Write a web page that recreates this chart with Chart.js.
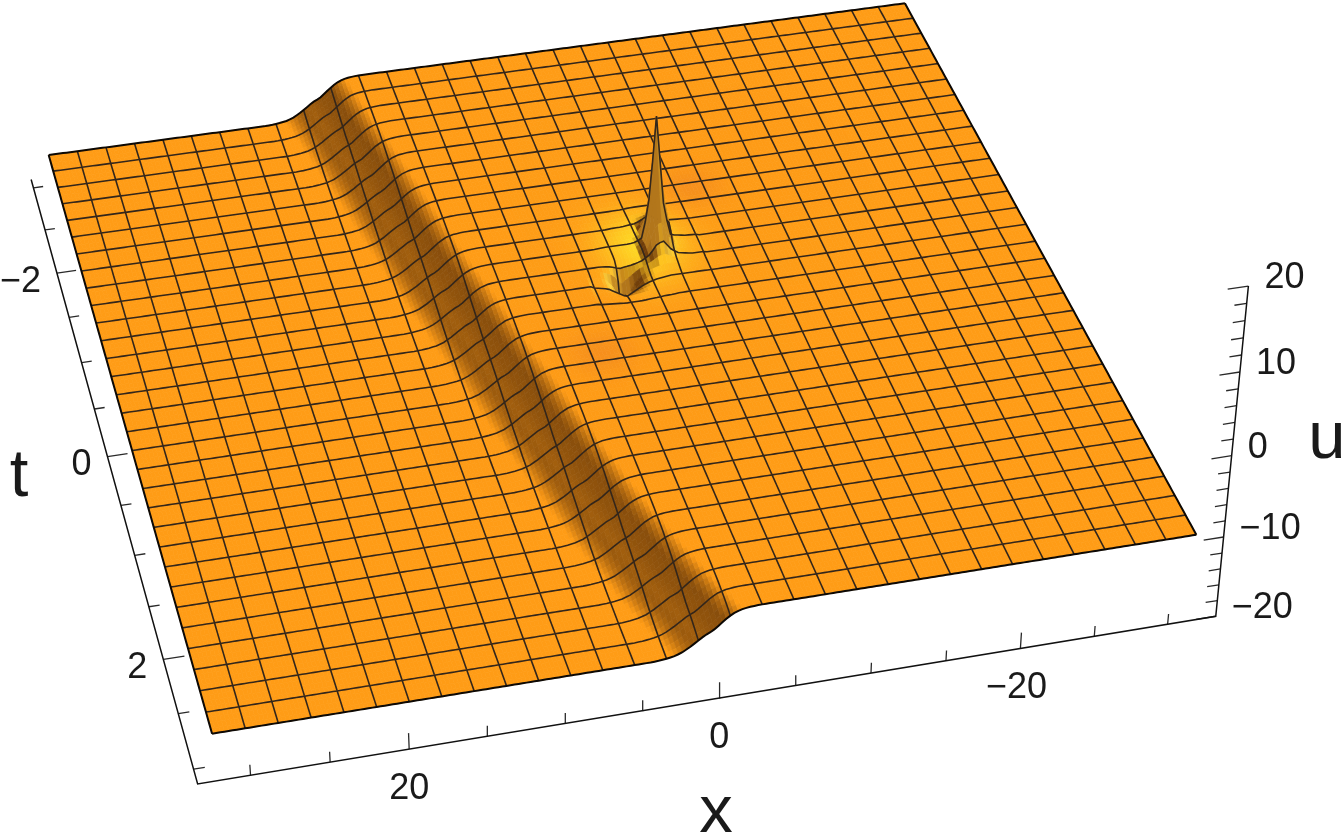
<!DOCTYPE html>
<html>
<head>
<meta charset="utf-8">
<style>html,body{margin:0;background:#fff}canvas{display:block}</style>
<script src="https://cdn.jsdelivr.net/npm/chart.js@4"></script>
</head>
<body>
<canvas id="chart" width="1344" height="840"></canvas>
<script>
// tick values and their labels
const xTicks = [30, 25, 20, 15, 10, 5, 0, -5, -10, -15, -20, -25, -30];
const xMajor = [20, 0, -20];
const tTicks = [-3, -2.5, -2, -1.5, -1, -0.5, 0, 0.5, 1, 1.5, 2, 2.5, 3];
const tMajor = [-2, 0, 2];
const uTicks = [-20, -18, -16, -14, -12, -10, -8, -6, -4, -2, 0, 2, 4, 6, 8, 10, 12, 14, 16, 18, 20];
const uMajor = [-20, -10, 0, 10, 20];

// where the kink sits (x) on each of the 32 t mesh lines, t = -3 first
const ridgeByRow = [12.7, 12.35, 12.0, 11.7, 11.35, 11.0, 10.7, 10.4, 10.1, 9.8, 9.5, 9.15, 8.8, 8.4, 8.05, 7.7,
    7.35, 7.0, 6.6, 6.25, 5.9, 5.5, 5.1, 4.7, 4.3, 3.9, 3.4, 2.9, 2.4, 1.8, 1.2, 0.6];

// kink height against distance from the ridge
const kinkOffset = [-3.5, -3, -2.5, -2, -1.5, -1, -0.5, 0, 0.5, 1, 1.5, 2, 2.5, 3, 3.5];
const kinkU = [-11, -11.05, -11.15, -11.4, -11.9, -12.6, -13.3, -13.7, -14.3, -14.9, -15.4, -15.7, -15.85, -15.95, -16];

// the lump: extra height on top of the kink surface
const lumpX = [-9.5, -8.5, -7.5, -7, -6.45, -6, -5.5, -5, -4.5, -4, -3.3, -2.7, -2, -1];
const lumpT = [-1.08, -0.98, -0.88, -0.78, -0.68, -0.63, -0.58, -0.53, -0.48, -0.43, -0.38, -0.33, -0.28, -0.18, -0.08, 0.02, 0.12];
const lumpU = [
    [0, 0, 0, 0.1, 0.1, 0.1, 0.1, 0, 0, 0, 0, 0, 0, 0],
    [0, 0.1, 0.1, 0.2, 0.3, 0.3, 0.2, 0.1, 0.1, 0, 0, 0, 0, 0],
    [0, 0.1, 0.2, 0.4, 0.9, 0.6, 0.3, 0.2, 0.1, 0.1, 0, 0, 0, 0],
    [0.1, 0.1, 0.3, 1.2, 4, 1.8, 0.4, 0.2, 0.1, 0.1, 0.1, 0, 0, 0],
    [0.1, 0.2, 0.5, 4, 16, 6, 0.7, 0.2, 0.1, 0.1, 0.1, 0.1, 0, 0],
    [0.1, 0.2, 0.6, 4.5, 11, 7, 0.9, 0.2, 0.1, 0.1, 0.1, 0.1, 0, 0],
    [0.1, 0.2, 0.6, 3.5, 7, 6, 1.1, 0.2, 0.1, 0.1, 0.1, 0.1, 0, 0],
    [0.1, 0.2, 0.5, 1.8, 3.8, 3.6, 1, 0.1, 0, 0, 0, 0.1, 0, 0],
    [0.1, 0.1, 0.4, 0.9, 2, 1.8, 0.7, 0.1, -0.2, -0.4, -0.6, -0.2, 0, 0],
    [0, 0.1, 0.3, 0.5, 0.9, 0.8, 0.3, -0.1, -0.5, -1.2, -2.2, -0.8, -0.2, 0],
    [0, 0.1, 0.2, 0.3, 0.3, 0.2, 0, -0.3, -0.9, -2, -5, -2, -0.5, -0.1],
    [0, 0.1, 0.1, 0.1, 0.1, 0, -0.1, -0.4, -0.9, -1.8, -3.2, -1.8, -0.6, -0.2],
    [0, 0, 0, 0, 0, -0.1, -0.2, -0.4, -0.7, -1.1, -1.6, -1.2, -0.6, -0.2],
    [0, 0, 0, 0, -0.1, -0.1, -0.2, -0.3, -0.4, -0.5, -0.6, -0.6, -0.4, -0.1],
    [0, 0, 0, 0, 0, -0.1, -0.1, -0.2, -0.2, -0.3, -0.3, -0.3, -0.2, -0.1],
    [0, 0, 0, 0, 0, 0, -0.1, -0.1, -0.1, -0.1, -0.1, -0.1, -0.1, 0],
    [0, 0, 0, 0, 0, 0, 0, 0, 0, 0, 0, 0, 0, 0]
];

// plot box and surface extents
const xEdge = 32, tEdge = 3, xBox = 33.3, tBox = 3.13, uBox = 20;
const cells = 31, subX = 8, subT = 4;

// camera fitted from axis ticks and the surface corners: [x, t, u, screenX, screenY]
const calibration = [
    [xBox, -3, -uBox, 32.5, 187], [xBox, -2, -uBox, 56.3, 273], [xBox, 2, -uBox, 163.6, 660], [xBox, 3, -uBox, 194, 770],
    [30, tBox, -uBox, 251, 775], [20, tBox, -uBox, 408, 748], [0, tBox, -uBox, 718, 697], [-20, tBox, -uBox, 1020, 648], [-30, tBox, -uBox, 1168, 623],
    [-xBox, tBox, -20, 1217, 615], [-xBox, tBox, -10, 1224.3, 537], [-xBox, tBox, 0, 1232, 456], [-xBox, tBox, 10, 1240, 373], [-xBox, tBox, 20, 1248, 284],
    [xEdge, -tEdge, -16, 50, 155], [xEdge, tEdge, -16, 213, 735], [-xEdge, -tEdge, -11, 905, 4], [-xEdge, tEdge, -11, 1195, 538]
];

function solveCamera(points) {
    const n = 11;
    const A = Array.from({length: n}, () => new Array(n + 1).fill(0));
    const add = (row, rhs) => {
        for (let i = 0; i < n; i++) {
            for (let j = 0; j < n; j++) A[i][j] += row[i] * row[j];
            A[i][n] += row[i] * rhs;
        }
    };
    points.forEach(([x, t, u, sx, sy]) => {
        const X = x / 30, T = t / 3, U = u / 20, a = sx / 1000, b = sy / 1000;
        add([X, T, U, 1, 0, 0, 0, 0, -a * X, -a * T, -a * U], a);
        add([0, 0, 0, 0, X, T, U, 1, -b * X, -b * T, -b * U], b);
    });
    for (let c = 0; c < n; c++) {
        let best = c;
        for (let r = c + 1; r < n; r++) if (Math.abs(A[r][c]) > Math.abs(A[best][c])) best = r;
        [A[c], A[best]] = [A[best], A[c]];
        for (let r = 0; r < n; r++) {
            if (r === c) continue;
            const f = A[r][c] / A[c][c];
            for (let k = c; k <= n; k++) A[r][k] -= f * A[c][k];
        }
    }
    return A.map((row, i) => row[n] / row[i]);
}
const cam = solveCamera(calibration);

function project(x, t, u) {
    const X = x / 30, T = t / 3, U = u / 20;
    const w = cam[8] * X + cam[9] * T + cam[10] * U + 1;
    return {
        x: 1000 * (cam[0] * X + cam[1] * T + cam[2] * U + cam[3]) / w,
        y: 1000 * (cam[4] * X + cam[5] * T + cam[6] * U + cam[7]) / w
    };
}

function lookup(xs, ys, v) {
    if (v <= xs[0]) return ys[0];
    const last = xs.length - 1;
    if (v >= xs[last]) return ys[last];
    let i = 0;
    while (xs[i + 1] < v) i++;
    return ys[i] + (ys[i + 1] - ys[i]) * (v - xs[i]) / (xs[i + 1] - xs[i]);
}

function lumpAt(x, t) {
    if (x <= lumpX[0] || x >= lumpX[lumpX.length - 1] || t <= lumpT[0] || t >= lumpT[lumpT.length - 1]) return 0;
    let r = 0;
    while (lumpT[r + 1] < t) r++;
    const a = lookup(lumpX, lumpU[r], x), b = lookup(lumpX, lumpU[r + 1], x);
    return a + (b - a) * (t - lumpT[r]) / (lumpT[r + 1] - lumpT[r]);
}

function kinkAt(x, t) {
    const row = (t + tEdge) / (2 * tEdge) * cells;
    const i = Math.min(Math.floor(row), cells - 1);
    const ridge = ridgeByRow[i] + (ridgeByRow[i + 1] - ridgeByRow[i]) * (row - i);
    return lookup(kinkOffset, kinkU, x - ridge);
}

// surface nodes
const nx = cells * subX + 1, nt = cells * subT + 1;
const nodeX = Array.from({length: nx}, (_, i) => xEdge - 2 * xEdge * i / (nx - 1));
const nodeT = Array.from({length: nt}, (_, j) => -tEdge + 2 * tEdge * j / (nt - 1));
const nodeU = nodeT.map(t => nodeX.map(x => kinkAt(x, t) + lumpAt(x, t)));
const nodeP = nodeT.map((t, j) => nodeX.map((x, i) => project(x, t, nodeU[j][i])));

// soft colour spots round the lump
const spots = [
    {x: -5.4, t: -0.64, rx: 3, rt: 0.38, color: [255, 228, 40], amount: 0.85},
    {x: -10.5, t: -1.21, rx: 2.2, rt: 0.22, color: [228, 118, 42], amount: 0.32},
    {x: 0.3, t: 0.41, rx: 2.2, rt: 0.22, color: [228, 118, 42], amount: 0.32}
];
const baseColor = [255, 156, 22], darkColor = [112, 62, 10], lightColor = [255, 222, 70], bladeColor = [190, 128, 30];

function mix(a, b, f) {
    return [a[0] + (b[0] - a[0]) * f, a[1] + (b[1] - a[1]) * f, a[2] + (b[2] - a[2]) * f];
}

function cellColor(i, j) {
    const dx = nodeX[i + 1] - nodeX[i], dt = nodeT[j + 1] - nodeT[j];
    const x = (nodeX[i] + nodeX[i + 1]) / 2, t = (nodeT[j] + nodeT[j + 1]) / 2;
    // kink slope over a wider step so the band stays soft, lump slope from the cell itself
    const kink = (kinkAt(x + 0.8, t) - kinkAt(x - 0.8, t)) / 1.6;
    const gx = kink + (lumpAt(x + dx / 2, t) - lumpAt(x - dx / 2, t)) / dx;
    const gt = (lumpAt(x, t + dt / 2) - lumpAt(x, t - dt / 2)) / dt / 10;
    let c = baseColor;
    spots.forEach(s => {
        const d = ((x - s.x) / s.rx) ** 2 + ((t - s.t) / s.rt) ** 2;
        c = mix(c, s.color, s.amount * Math.exp(-d));
    });
    const shade = -gx + Math.max(0, gt) * 0.6;
    if (shade > 0.45) c = mix(c, darkColor, Math.min(1, (shade - 0.45) / 0.95));
    else if (shade < -0.3) c = mix(c, lightColor, Math.min(0.8, (-shade - 0.3) / 1.5));
    const steep = Math.abs(gx) + Math.abs(gt);
    if (steep > 2) c = mix(c, bladeColor, Math.min(0.85, (steep - 2) / 3));
    return `rgb(${c[0] | 0},${c[1] | 0},${c[2] | 0})`;
}

// mesh line datasets, one pair for each strip between two t mesh lines, back to front
const gap = {x: NaN, y: NaN};
const datasets = [];
const meshStyle = {showLine: true, pointRadius: 0, borderColor: '#33261b', borderWidth: 1.6, fill: false};
for (let s = 0; s < cells; s++) {
    const along = [];
    for (let m = 1; m < cells; m++) {
        const i = m * subX;
        for (let k = 0; k <= subT; k++) along.push(nodeP[s * subT + k][i]);
        along.push(gap);
    }
    datasets.push({label: 'x lines ' + s, data: along, strip: s, order: 2 * (cells - s) + 1, ...meshStyle});
    if (s > 0) datasets.push({label: 't line ' + s, data: nodeP[s * subT], order: 2 * (cells - s), ...meshStyle});
}

// surface outline
const edgeStyle = {showLine: true, pointRadius: 0, borderColor: '#0d0905', borderWidth: 2, fill: false, order: -1};
datasets.push({label: 'back edge', data: nodeP[0], ...edgeStyle});
datasets.push({label: 'front edge', data: nodeP[nt - 1], ...edgeStyle});
datasets.push({label: 'left edge', data: nodeP.map(r => r[0]), ...edgeStyle});
datasets.push({label: 'right edge', data: nodeP.map(r => r[nx - 1]), ...edgeStyle});

// box axes and ticks
const tAxisPts = [project(xBox, -3.1, -uBox), project(xBox, tBox, -uBox), project(-xBox, tBox, -uBox), project(-xBox, tBox, uBox)];
const tickPts = [];
tTicks.forEach(v => {
    const len = tMajor.includes(v) ? 1.35 : 0.7;
    tickPts.push(project(xBox, v, -uBox), project(xBox - len, v, -uBox), gap);
});
xTicks.forEach(v => {
    const len = xMajor.includes(v) ? 2 : 1.3;
    tickPts.push(project(v, tBox, -uBox), project(v, tBox, -uBox + len), gap);
});
uTicks.forEach(v => {
    const len = uMajor.includes(v) ? 1.35 : 0.8;
    tickPts.push(project(-xBox, tBox, v), project(-xBox + len, tBox, v), gap);
});
datasets.push({label: 'axes', data: tAxisPts, showLine: true, pointRadius: 0, borderColor: '#111', borderWidth: 1.5, order: -2});
datasets.push({label: 'ticks', data: tickPts, showLine: true, pointRadius: 0, borderColor: '#2a2a2a', borderWidth: 1.3, order: -2});

const surfacePlugin = {
    id: 'surface',
    beforeDatasetDraw(chart, args) {
        const strip = chart.data.datasets[args.index].strip;
        if (strip === undefined) return;
        const c = chart.ctx, sx = chart.scales.x, sy = chart.scales.y;
        c.save();
        c.lineWidth = 0.7;
        for (let j = strip * subT; j < (strip + 1) * subT; j++) {
            for (let i = 0; i < nx - 1; i++) {
                const col = cellColor(i, j);
                c.fillStyle = col;
                c.strokeStyle = col;
                c.beginPath();
                [nodeP[j][i], nodeP[j][i + 1], nodeP[j + 1][i + 1], nodeP[j + 1][i]].forEach((p, k) => {
                    const px = sx.getPixelForValue(p.x), py = sy.getPixelForValue(p.y);
                    if (k === 0) c.moveTo(px, py); else c.lineTo(px, py);
                });
                c.closePath();
                c.fill();
                c.stroke();
            }
        }
        c.restore();
    }
};

const tickFont = '36px "Liberation Sans"', titleFont = '67px "Liberation Sans"';
const fmt = v => String(v).replace('-', '\u2212');

const textPlugin = {
    id: 'axisText',
    afterDraw(chart) {
        const c = chart.ctx, sx = chart.scales.x, sy = chart.scales.y;
        const put = (s, p, dx, dy, align) => {
            c.textAlign = align;
            c.fillText(s, sx.getPixelForValue(p.x) + dx, sy.getPixelForValue(p.y) + dy);
        };
        c.save();
        c.fillStyle = '#1a1a1a';
        c.textBaseline = 'middle';
        c.font = tickFont;
        tMajor.forEach(v => put(fmt(v), project(xBox, v, -uBox), -16, 9, 'right'));
        xMajor.forEach(v => put(fmt(v), project(v, tBox, -uBox), v < 0 ? -4 : 0, 40, 'center'));
        uMajor.forEach(v => put(fmt(v), project(-xBox, tBox, v), 16, -8, 'left'));
        c.font = titleFont;
        put('t', {x: 19, y: 478}, 0, 0, 'center');
        put('x', {x: 716, y: 814}, 0, 0, 'center');
        put('u', {x: 1327, y: 440}, 0, 0, 'center');
        c.restore();
    }
};

new Chart(document.getElementById('chart').getContext('2d'), {
    type: 'scatter',
    data: {datasets: datasets},
    options: {
        responsive: false,
        animation: false,
        events: [],
        layout: {padding: 0},
        plugins: {legend: {display: false}, tooltip: {enabled: false}},
        scales: {
            x: {type: 'linear', min: 0, max: 1344, display: false},
            y: {type: 'linear', min: 0, max: 840, reverse: true, display: false}
        }
    },
    plugins: [surfacePlugin, textPlugin]
});
</script>
</body>
</html>
